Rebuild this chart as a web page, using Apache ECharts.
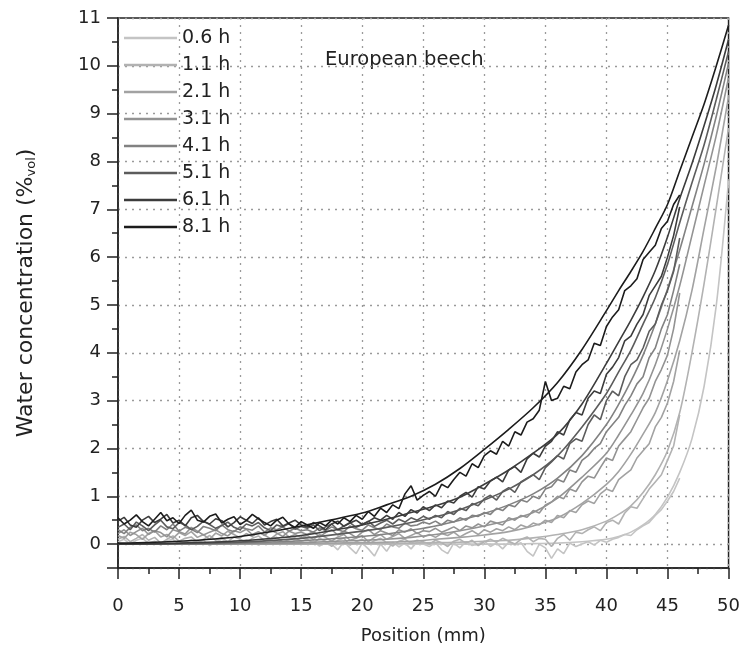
<!DOCTYPE html>
<html><head><meta charset="utf-8">
<script src="https://cdn.jsdelivr.net/npm/echarts@6/dist/echarts.min.js"></script>
<style>html,body{margin:0;padding:0;background:#fff}#c{width:743px;height:654px}</style>
</head><body><div id="c"></div>
<script>
const seriesNames = ['0.6 h','1.1 h','2.1 h','3.1 h','4.1 h','5.1 h','6.1 h','8.1 h'];
const seriesColors = ['#c4c4c4','#b2b2b2','#a2a2a2','#939393','#828282','#5c5c5c','#3c3c3c','#1c1c1c'];
const xTicks = [0,5,10,15,20,25,30,35,40,45,50];

// fitted curves, sampled positions (mm)
const xFit = [0,5,10,15,20,22,24,26,28,30,32,34,36,38,40,41,42,43,44,45,46,47,48,49,50];
const fit06 = [0,0,0,0,0,0,0,0,0,0,0,0.01,0.02,0.05,0.1,0.16,0.25,0.4,0.62,0.98,1.5,2.2,3.3,5.0,7.6];
const fit11 = [0,0,0,0,0.01,0.01,0.02,0.03,0.04,0.06,0.08,0.13,0.2,0.3,0.48,0.62,0.8,1.08,1.45,1.95,2.75,4.0,5.45,7.05,8.7];
const fit21 = [0,0,0,0.01,0.03,0.04,0.06,0.1,0.14,0.19,0.26,0.38,0.55,0.85,1.25,1.52,1.88,2.3,2.75,3.42,4.25,5.3,6.6,7.9,9.35];
const fit31 = [0,0,0.01,0.03,0.08,0.1,0.14,0.2,0.28,0.38,0.5,0.66,0.96,1.4,1.9,2.28,2.7,3.15,3.75,4.5,5.4,6.45,7.5,8.55,9.75];
const fit41 = [0,0,0.02,0.07,0.16,0.21,0.29,0.38,0.5,0.64,0.82,1.05,1.38,1.85,2.5,2.92,3.4,3.95,4.6,5.33,6.15,7.05,7.95,8.95,10.05];
const fit51 = [0,0.01,0.04,0.12,0.27,0.35,0.45,0.57,0.72,0.92,1.15,1.45,1.85,2.45,3.15,3.6,4.05,4.6,5.15,5.85,6.72,7.55,8.35,9.3,10.3];
const fit61 = [0,0.02,0.07,0.18,0.4,0.52,0.66,0.8,0.98,1.25,1.55,1.9,2.3,2.93,3.78,4.23,4.68,5.17,5.72,6.42,7.22,7.95,8.75,9.6,10.55];
const fit81 = [0.02,0.06,0.16,0.38,0.65,0.82,1.0,1.25,1.58,1.98,2.4,2.85,3.38,4.07,4.88,5.3,5.7,6.12,6.6,7.1,7.8,8.5,9.2,10.0,10.85];

// measured profiles, positions 0 to 46 mm every 0.5 mm
const xMeas = Array.from({length: 93}, (_, i) => i * 0.5);
const meas06 = [0.05,0.1,0.0,0.08,0.12,0.02,0.06,-0.02,0.07,0.1,0.0,0.05,0.09,0.03,0.08,-0.03,0.04,0.1,0.02,0.06,0.0,0.08,0.04,-0.02,0.07,0.1,0.03,0.05,0.0,0.08,0.04,
 0.02,0.06,-0.04,0.03,0.0,-0.12,0.05,-0.08,-0.2,0.02,-0.1,-0.25,0.0,-0.15,0.04,-0.06,0.02,-0.1,0.05,0.0,
 -0.05,0.03,-0.12,-0.2,0.02,-0.08,0.05,-0.03,0.0,0.06,-0.05,0.02,-0.1,0.04,-0.02,0.03,-0.15,-0.25,0.0,-0.08,
 -0.3,-0.1,-0.2,0.02,-0.05,0.0,0.05,-0.02,0.08,0.04,0.1,0.14,0.2,0.18,0.3,0.38,0.45,0.6,0.72,0.9,1.1,1.38];
const meas11 = [0.1,0.16,0.05,0.12,0.2,0.08,0.14,0.02,0.1,0.17,0.06,0.12,0.15,0.04,0.1,0.18,0.08,0.13,0.05,0.15,0.1,0.03,0.12,0.17,0.07,0.11,0.14,0.04,0.09,0.13,0.06,
 0.1,0.02,0.12,0.06,-0.05,0.08,0.12,-0.02,0.05,0.1,0.0,0.07,0.12,0.03,-0.04,0.06,0.1,0.02,0.08,0.05,
 0.0,0.08,0.03,-0.05,0.06,0.1,0.02,0.08,-0.03,0.05,0.1,0.04,0.12,0.06,0.0,0.1,0.15,0.05,0.12,0.1,
 -0.05,0.12,0.2,0.08,0.25,0.22,0.3,0.36,0.28,0.45,0.5,0.42,0.65,0.78,0.75,0.95,1.15,1.3,1.45,1.75,2.05,2.7];
const meas21 = [0.18,0.12,0.25,0.2,0.1,0.22,0.28,0.15,0.2,0.12,0.24,0.18,0.26,0.14,0.2,0.1,0.23,0.17,0.27,0.2,0.13,0.22,0.16,0.25,0.19,0.11,0.21,0.26,0.15,0.2,0.14,
 0.18,0.1,0.2,0.14,0.06,0.15,0.2,0.08,0.12,0.18,0.05,0.14,0.2,0.1,0.16,0.22,0.12,0.18,0.24,0.15,
 0.2,0.14,0.22,0.18,0.25,0.15,0.22,0.28,0.2,0.3,0.25,0.32,0.28,0.36,0.3,0.4,0.35,0.44,0.4,0.5,
 0.45,0.6,0.55,0.7,0.66,0.82,0.9,0.85,1.05,1.15,1.1,1.35,1.45,1.55,1.8,1.95,2.1,2.45,2.65,2.95,3.4,4.05];
const meas31 = [0.22,0.3,0.18,0.26,0.33,0.2,0.28,0.24,0.15,0.3,0.26,0.21,0.35,0.27,0.19,0.25,0.3,0.22,0.17,0.28,0.24,0.31,0.2,0.26,0.18,0.29,0.23,0.16,0.27,0.22,0.25,
 0.2,0.26,0.15,0.24,0.3,0.19,0.27,0.22,0.14,0.25,0.3,0.2,0.28,0.23,0.18,0.3,0.25,0.32,0.22,0.28,
 0.26,0.33,0.25,0.3,0.36,0.28,0.38,0.34,0.42,0.36,0.48,0.44,0.4,0.55,0.5,0.6,0.56,0.7,0.65,0.82,
 0.88,1.0,0.95,1.15,1.1,1.3,1.42,1.38,1.6,1.8,1.75,2.05,2.2,2.35,2.6,2.85,3.05,3.4,3.65,3.95,4.5,5.25];
const meas41 = [0.3,0.22,0.35,0.4,0.28,0.33,0.25,0.38,0.3,0.42,0.27,0.35,0.31,0.24,0.37,0.33,0.28,0.4,0.3,0.26,0.36,0.32,0.29,0.38,0.25,0.34,0.3,0.36,0.27,0.33,0.28,
 0.3,0.25,0.34,0.28,0.36,0.3,0.26,0.38,0.32,0.29,0.4,0.34,0.3,0.42,0.36,0.33,0.44,0.38,0.4,0.46,
 0.42,0.48,0.4,0.5,0.46,0.55,0.5,0.6,0.58,0.66,0.62,0.75,0.7,0.82,0.78,0.92,0.88,1.0,0.95,1.15,
 1.2,1.35,1.3,1.55,1.5,1.75,1.85,2.0,2.1,2.35,2.5,2.65,2.9,3.1,3.35,3.5,3.9,4.1,4.5,4.8,5.3,5.85];
const meas51 = [0.35,0.42,0.3,0.46,0.38,0.28,0.4,0.5,0.36,0.32,0.45,0.4,0.3,0.37,0.48,0.41,0.33,0.39,0.46,0.35,0.3,0.42,0.38,0.45,0.34,0.28,0.4,0.36,0.43,0.31,0.37,
 0.33,0.4,0.28,0.36,0.42,0.3,0.38,0.45,0.35,0.41,0.48,0.37,0.44,0.5,0.42,0.52,0.46,0.55,0.5,0.58,
 0.52,0.6,0.55,0.68,0.62,0.75,0.7,0.85,0.8,0.95,1.02,0.92,1.1,1.18,1.08,1.3,1.38,1.45,1.35,1.6,
 1.72,1.85,1.78,2.1,2.2,2.15,2.5,2.7,2.6,3.0,3.2,3.1,3.5,3.75,3.85,4.1,4.45,4.6,5.0,5.3,5.7,6.4];
const meas61 = [0.48,0.56,0.4,0.35,0.5,0.58,0.45,0.52,0.62,0.44,0.5,0.38,0.55,0.6,0.47,0.42,0.53,0.49,0.36,0.45,0.57,0.5,0.43,0.55,0.4,0.47,0.52,0.38,0.44,0.5,0.4,
 0.36,0.45,0.38,0.3,0.42,0.48,0.37,0.44,0.5,0.41,0.47,0.55,0.5,0.6,0.52,0.66,0.58,0.72,0.65,0.78,
 0.7,0.82,0.76,0.9,0.86,1.0,1.08,0.98,1.2,1.15,1.32,1.4,1.3,1.55,1.62,1.5,1.78,1.9,1.82,2.05,
 2.15,2.35,2.28,2.6,2.75,2.7,3.05,3.2,3.15,3.55,3.7,3.9,4.25,4.35,4.6,4.8,5.2,5.4,5.6,6.0,6.45,7.05];
const meas81 = [0.55,0.42,0.5,0.61,0.47,0.38,0.52,0.66,0.49,0.55,0.43,0.6,0.71,0.5,0.46,0.58,0.63,0.44,0.52,0.57,0.41,0.49,0.62,0.53,0.45,0.38,0.5,0.56,0.42,0.35,0.47,
 0.4,0.33,0.45,0.38,0.5,0.42,0.55,0.47,0.6,0.52,0.68,0.58,0.75,0.66,0.82,0.74,1.05,1.22,0.92,1.02,
 1.1,1.0,1.25,1.18,1.35,1.5,1.42,1.68,1.6,1.85,1.95,1.88,2.15,2.05,2.35,2.28,2.55,2.62,2.8,3.4,
 3.0,3.05,3.3,3.25,3.6,3.75,3.85,4.2,4.15,4.55,4.75,4.9,5.3,5.4,5.55,5.95,6.1,6.25,6.6,6.75,7.1,7.3];

const measAll = [meas06, meas11, meas21, meas31, meas41, meas51, meas61, meas81];
const fitAll = [fit06, fit11, fit21, fit31, fit41, fit51, fit61, fit81];

const FONT = 'DejaVu Sans';
const series = [];
seriesNames.forEach((nm, i) => {
  series.push({
    name: nm, type: 'line', symbol: 'none', animation: false,
    data: xMeas.map((x, k) => [x, measAll[i][k]]),
    lineStyle: {color: seriesColors[i], width: 1.6},
    itemStyle: {color: seriesColors[i]}
  });
  series.push({
    name: nm + ' fit', type: 'line', symbol: 'none', animation: false,
    smooth: 0.3,
    data: xFit.map((x, k) => [x, fitAll[i][k]]),
    lineStyle: {color: seriesColors[i], width: 1.6},
    itemStyle: {color: seriesColors[i]}
  });
});

const chart = echarts.init(document.getElementById('c'), null, {renderer: 'canvas'});
chart.setOption({
  animation: false,
  backgroundColor: '#fff',
  grid: {left: 118, right: 14, top: 18, bottom: 86, show: true, borderColor: '#222', borderWidth: 1.5, backgroundColor: 'transparent'},
  legend: {
    data: seriesNames, orient: 'vertical', left: 124, top: 28,
    icon: 'rect', itemWidth: 53, itemHeight: 2.5, itemGap: 7,
    textStyle: {fontFamily: FONT, fontSize: 19, color: '#222', lineHeight: 20, padding: [0, 0, 0, 0]},
    padding: 0
  },
  graphic: [{type: 'text', left: 325, top: 50, style: {text: 'European beech', font: '19.5px "DejaVu Sans"', fill: '#222'}}],
  xAxis: {
    type: 'value', min: 0, max: 50, interval: 5,
    name: 'Position (mm)', nameLocation: 'middle', nameGap: 59,
    nameTextStyle: {fontFamily: FONT, fontSize: 18, color: '#222'},
    axisLine: {onZero: false, lineStyle: {color: '#222', width: 1.5}},
    axisTick: {show: true, length: 11, lineStyle: {color: '#222', width: 1.5}},
    minorTick: {show: true, splitNumber: 2, length: 6, lineStyle: {color: '#222', width: 1.5}},
    axisLabel: {fontFamily: FONT, fontSize: 18, color: '#222', margin: 29,
      formatter: v => (xTicks.indexOf(v) >= 0 ? String(v) : '')},
    splitLine: {show: true, lineStyle: {color: '#9a9a9a', width: 1.3, type: [2, 5]}}
  },
  yAxis: {
    type: 'value', min: -0.5, max: 11, splitNumber: 11, minInterval: 1, maxInterval: 1,
    name: 'Water concentration (%{sub|vol})', nameLocation: 'middle', nameGap: 80,
    nameTextStyle: {fontFamily: FONT, fontSize: 22, color: '#222', lineHeight: 24,
      rich: {sub: {fontFamily: FONT, fontSize: 13, color: '#222', verticalAlign: 'bottom', lineHeight: 24}}},
    axisLine: {onZero: false, lineStyle: {color: '#222', width: 1.5}},
    axisTick: {show: true, length: 11, lineStyle: {color: '#222', width: 1.5}},
    minorTick: {show: true, splitNumber: 2, length: 6, lineStyle: {color: '#222', width: 1.5}},
    axisLabel: {fontFamily: FONT, fontSize: 18, color: '#222', margin: 17,
      formatter: v => (v < 0 ? '' : String(v))},
    splitLine: {show: true, lineStyle: {color: '#9a9a9a', width: 1.3, type: [2, 5]}}
  },
  series: series
});
</script></body></html>
